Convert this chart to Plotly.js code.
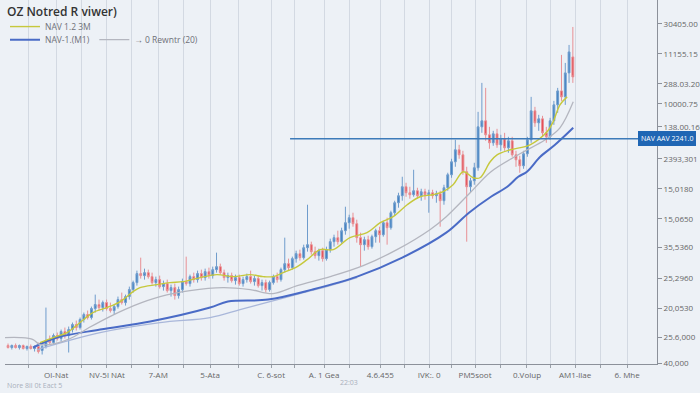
<!DOCTYPE html>
<html>
<head>
<meta charset="utf-8">
<script src="https://cdn.plot.ly/plotly-3.0.1.min.js"></script>
<style>html,body{margin:0;padding:0;background:#edf1f6;}#chart{width:700px;height:393px;}</style>
</head>
<body>
<div id="chart"></div>
<script>
// ---- candle data (open, high, low, close), one per session ----
const candleOpen  = [17,15,17,15,17,14,16,14,16,12, 16,22,20,27,24,31,27, 33,38,35,43,48,45,54,58, 55,60,54,52,56,63,60,66, 73,80,89,87,90, 86,80,83,76,79,72,75,67, 73,81,79,86,83,89,85,91,87,93,96, 90,85,87,82,85,79,83,86,81,84,77,80, 73,80,86,83,93,99,95,104,109,105,115, 118,111,107,112,104, 113,121,125,121,132,140,145, 139,125,118,123, 116,126,132,128,140,135,150,160,167, 176,170,168,172,167,171,168,170,167,169,162, 175,188,201,213, 208,191,176,182, 195,236,242, 228,220,229,218,224,215,222, 208,203,197, 209,223,252,240,244, 230,226, 242,258,272,266,290,306];
const candleHigh  = [19,18,19,18,18,17,18,17,20,18, 55,27,29,30,33,35,36, 40,42,45,50,52,56,68,63, 62,63,60,58,66,70,68,76, 82,92,105,94,93, 90,86,87,82,83,78,79,76, 84,106,88,90,92,93,94,95,96,110,99, 93,90,90,88,88,86,89,92,87,87,83,83, 82,88,90,95,125,104,106,112,113,118,158, 121,116,114,115,116, 124,128,132,135,156,148,150, 143,130,126,127, 128,134,136,142,145,152,162,170,186, 180,176,193,175,174,174,173,173,172,172,178, 190,204,223,218, 212,196,185,200, 251,280,275, 236,232,234,228,230,226,226, 212,207,212, 226,266,256,248,247, 236,245, 262,275,308,300,318,336];
const candleLow   = [14,13,14,13,13,12,13,11,9,8, 14,18,18,22,21,24,10, 30,32,33,40,43,43,50,52, 51,52,50,48,54,58,57,63, 70,77,84,83,84, 78,76,74,72,70,66,63,64, 70,77,76,80,80,82,82,84,84,90,88, 82,80,80,78,77,76,80,79,77,75,72,70, 71,78,80,81,90,92,93,100,102,103,111, 108,104,102,101,102, 110,116,118,119,128,134,136, 120,96,112,113, 114,120,120,126,118,133,147,155,162, 166,164,166,164,162,163,150,164,160,136,158, 172,185,196,204, 188,121,170,178, 192,230,222, 214,217,215,212,212,210,206, 196,190,194, 206,220,236,232,226, 220,223, 238,250,262,258,280,280];
const candleClose = [15,17,15,17,14,16,14,15,11,16, 22,20,27,24,31,27,33, 38,35,43,48,45,54,58,55, 60,54,52,56,63,60,66,73, 80,89,87,90,86, 80,83,76,79,72,75,67,73, 81,79,86,83,89,85,91,87,93,96,90, 85,87,82,85,79,83,86,81,84,77,80,73, 80,86,83,93,99,95,104,109,105,115,118, 111,107,112,104,113, 121,125,121,132,140,145,139, 125,118,123,116, 126,132,128,140,135,150,160,167,176, 170,168,172,167,171,168,170,167,169,162,175, 188,201,213,208, 191,176,182,195, 236,242,228, 220,229,218,224,215,222,208, 203,197,209, 223,252,240,244,230, 226,242, 258,272,266,290,311,286];

// ---- line series (session position, value) ----
const fastX = [8.4,11.9,15.6,19,22.4,26.1,29.6,33,34.8,39.3,42.7,46.2,50.7,55.1,59.4,63.9,67.3,69.9,72.6,76.3,78.9,82.3,85.8,90.2,94.7,98.2,101.6,105.3,108.7,112.1,114.8,117.4,120.1,122.7,124.5,127.2,129,132.5,137.7,142.2,143.8,145.6,147.5];
const fastY = [20,25,30,40,50,55,61,71,75,78,80,81,85,88,86,88,86,86,90,96,103,113,113,125,130,140,146,158,166,168,171,178,191,185,185,201,208,213,218,231,241,258,266];
const slowX = [-0.8,3.2,6.6,8.4,12.4,16.4,21.4,27.4,33.2,40.1,48,56.7,63.9,69.9,76.3,85,93.7,102.6,111.3,115.6,121.9,127.4,134.6,141.7,145.6,149.1];
const slowY = [25,25,23,18,19,24,35,47,57,66,72,75,73,69,77,86,97,113,133,146,170,191,208,223,235,261];
const longX = [6.6,12.9,24.3,37.5,53.3,58,68.6,80.2,92.1,104,115.6,121.6,127.4,131.7,134.6,136.9,140.4,144.3,149.1];
const longY = [15,25,33,41,55,61,63,73,86,105,130,150,166,176,186,191,206,218,235];
const twinX = [7.7,24.3,40.1,53.3,61.2,69.1,77,85,92.1];
const twinY = [13,30,40,45,53,61,69,77,85];

// x ticks: every grid position, labelled where the picture has a label
const xTickPos  = [5.3,12.7,19.5,26.1,32.7,39.6,46.4,53.3,60.9,69.4,75.7,83.4,90.0,98.2,104.5,111.1,117.1,123.2,129.8,136.9,143.0,149.6,156.2,163.3];
const xTickText = ["","Ol-Nat","","NV-5l NAt","","7-AM","","5-Ata","","C. 6-sot","","A. 1 Gea","","4.6.455","","IVK:. 0","","PM5soot","","0.Volup","","AM1-llae","","6. Mhe"];
const yTickPos  = [339,309,279,259,236,204,174,144,115,84,54,25,-1];
const yTickText = ["30405.00","11155.15","288.03.20","10000.75","138.00.16","2393,301","15,0180","15,0650","35,5360","25,2960","20,0530","25.6,000","40,000"];

const levelValue = 224;
const levelStart = 74.4;
const levelLabel = "NAV AAV 2241.0";

const sessions = candleClose.map((_, i) => i);

const traces = [
  {type:'scatter', mode:'lines', x:twinX, y:twinY, line:{color:'#a9b7da', width:1.3, shape:'spline'}, showlegend:false, hoverinfo:'skip'},
  {type:'scatter', mode:'lines', x:longX, y:longY, name:'NAV-1.(M1)', legend:'legend2', line:{color:'#4a6bc6', width:2, shape:'spline'}},
  {type:'scatter', mode:'lines', x:slowX, y:slowY, name:'\u2192 0 Rewntr (20)', legend:'legend3', line:{color:'#b4b6bf', width:1.3, shape:'spline'}},
  {type:'candlestick', x:sessions, open:candleOpen, high:candleHigh, low:candleLow, close:candleClose, showlegend:false,
   increasing:{line:{color:'#6f9ccc', width:1}, fillcolor:'#3f80c2'},
   decreasing:{line:{color:'#e89095', width:1}, fillcolor:'#e2474f'},
   whiskerwidth:0},
  {type:'scatter', mode:'lines', x:fastX, y:fastY, name:'NAV 1.2 3M', legend:'legend', line:{color:'#c6c83c', width:1.4, shape:'spline'}}
];

const legendFont = {size:8.5, color:'#6d7078'};
const layout = {
  width:700, height:393,
  paper_bgcolor:'#edf1f6', plot_bgcolor:'#edf1f6',
  margin:{l:5, r:43, t:0, b:29},
  font:{family:'Open Sans, Noto Sans, sans-serif', color:'#555'},
  showlegend:true,
  legend:{x:0, xanchor:'left', y:0.927, yanchor:'middle', orientation:'h', bgcolor:'rgba(0,0,0,0)', font:legendFont, itemwidth:30},
  legend2:{x:0, xanchor:'left', y:0.891, yanchor:'middle', orientation:'h', bgcolor:'rgba(0,0,0,0)', font:legendFont, itemwidth:30},
  legend3:{x:0.137, xanchor:'left', y:0.891, yanchor:'middle', orientation:'h', bgcolor:'rgba(0,0,0,0)', font:legendFont, itemwidth:30},
  xaxis:{range:[-0.8,171.2], rangeslider:{visible:false}, tickmode:'array', tickvals:xTickPos, ticktext:xTickText,
    showgrid:true, gridcolor:'#d3d9e2', gridwidth:1, zeroline:false, showline:true, linecolor:'#8c919a', linewidth:1,
    ticks:'outside', ticklen:3, tickcolor:'#9aa0a8', tickfont:{size:8, color:'#666'}},
  yaxis:{range:[-1.5,363], side:'right', tickmode:'array', tickvals:yTickPos, ticktext:yTickText,
    showgrid:false, zeroline:false, showline:true, linecolor:'#8c919a', linewidth:1,
    ticks:'outside', ticklen:4, tickcolor:'#8c919a', tickfont:{size:8, color:'#666'}},
  shapes:[{type:'line', xref:'x', yref:'y', x0:levelStart, x1:171.2, y0:levelValue, y1:levelValue, line:{color:'#3d7bb9', width:1.5}}],
  annotations:[
    {xref:'paper', yref:'paper', x:0, y:1, xanchor:'left', yanchor:'middle', yshift:-11, showarrow:false,
     text:'OZ Notred R viwer)', font:{size:12, color:'#333', family:'Open Sans, sans-serif', weight:600}},
    {xref:'paper', yref:'y', x:1, y:levelValue, xanchor:'left', yanchor:'middle', xshift:-19, showarrow:false,
     text:levelLabel, bgcolor:'#1f66b4', bordercolor:'#1f66b4', borderpad:2, font:{size:7, color:'#ffffff'}},
    {xref:'paper', yref:'paper', x:0, y:0, xanchor:'left', yanchor:'middle', yshift:-21, showarrow:false,
     text:'Nore 8il 0t Eact 5', font:{size:7, color:'#a9b0bc'}},
    {xref:'paper', yref:'paper', x:0.528, y:0, xanchor:'center', yanchor:'middle', yshift:-18, showarrow:false,
     text:'22:03', font:{size:7, color:'#a9b0bc'}}
  ]
};

Plotly.newPlot('chart', traces, layout, {displayModeBar:false, staticPlot:true});
</script>
</body>
</html>
